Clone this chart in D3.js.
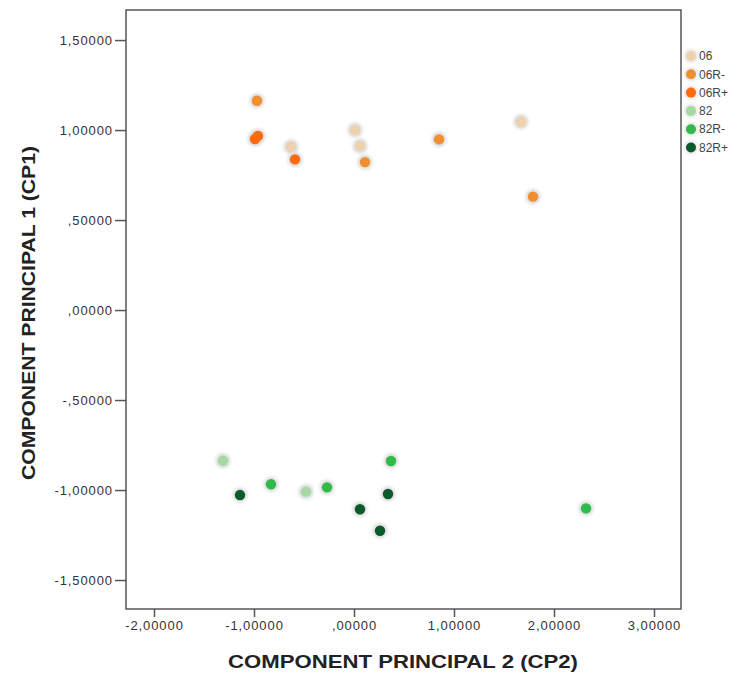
<!DOCTYPE html>
<html>
<head>
<meta charset="utf-8">
<script src="https://cdn.jsdelivr.net/npm/d3@7"></script>
<style>
  body { margin: 0; background: #fff; }
  text { font-family: "Liberation Sans", Arial, sans-serif; }
</style>
</head>
<body>
<script>
// groups in the legend
const groups = ['06', '06R-', '06R+', '82', '82R-', '82R+'];
const groupColors = ['#efd2ad', '#ef8f2f', '#ff6a0f', '#a6d8a4', '#2fba4b', '#0b5a2c'];

// CP2 (x) and CP1 (y) per point, with their group
const pointGroup = ['06', '06', '06', '06',
  '06R-', '06R-', '06R-', '06R-',
  '06R+', '06R+', '06R+',
  '82', '82',
  '82R-', '82R-', '82R-', '82R-',
  '82R+', '82R+', '82R+', '82R+'];
const cp2 = [-0.63, 0.01, 0.06, 1.67,
  -0.97, 0.11, 0.85, 1.79,
  -0.99, -0.96, -0.59,
  -1.31, -0.48,
  -0.83, -0.27, 0.37, 2.32,
  -1.14, 0.06, 0.34, 0.26];
const cp1 = [0.907, 1.0, 0.911, 1.046,
  1.163, 0.822, 0.948, 0.63,
  0.95, 0.967, 0.837,
  -0.837, -1.009,
  -0.968, -0.985, -0.839, -1.102,
  -1.028, -1.107, -1.022, -1.226];

const xTicks = [-2, -1, 0, 1, 2, 3];
const yTicks = [-1.5, -1, -0.5, 0, 0.5, 1, 1.5];

const width = 739, height = 673;
const plotLeft = 126, plotRight = 681, plotTop = 10, plotBottom = 609;

// SPSS style labels: comma decimal, no leading zero, plain hyphen
const spss = v => d3.format('.5f')(v).replace('\u2212', '-').replace('.', ',').replace(/^(-?)0,/, '$1,');

const svg = d3.select('body').append('svg')
  .attr('width', width)
  .attr('height', height);

const defs = svg.append('defs');
defs.append('filter').attr('id', 'halo')
  .attr('x', '-50%').attr('y', '-50%').attr('width', '200%').attr('height', '200%')
  .append('feGaussianBlur').attr('stdDeviation', 1.6);

const x = d3.scaleLinear().domain([-2.28, 3.27]).range([plotLeft, plotRight]);
const y = d3.scaleLinear().domain([-1.661, 1.667]).range([plotBottom, plotTop]);
const color = d3.scaleOrdinal().domain(groups).range(groupColors);

// frame
svg.append('rect')
  .attr('x', plotLeft).attr('y', plotTop)
  .attr('width', plotRight - plotLeft).attr('height', plotBottom - plotTop)
  .attr('fill', 'none').attr('stroke', '#555').attr('stroke-width', 1.5);

const xAxis = svg.append('g')
  .attr('transform', `translate(0,${plotBottom})`)
  .call(d3.axisBottom(x).tickValues(xTicks).tickFormat(spss).tickSize(8).tickPadding(4).tickSizeOuter(0));
const yAxis = svg.append('g')
  .attr('transform', `translate(${plotLeft},0)`)
  .call(d3.axisLeft(y).tickValues(yTicks).tickFormat(spss).tickSize(11).tickPadding(2).tickSizeOuter(0));

[xAxis, yAxis].forEach(a => {
  a.select('.domain').remove();
  a.selectAll('line').attr('stroke', '#555').attr('stroke-width', 1.5);
  a.selectAll('text').attr('fill', '#333').style('font-size', '13px').style('letter-spacing', '0.9px');
});

// axis titles
svg.append('text')
  .attr('x', 403).attr('y', 668)
  .attr('text-anchor', 'middle')
  .attr('textLength', 350).attr('lengthAdjust', 'spacingAndGlyphs')
  .style('font-size', '18px').style('font-weight', 'bold').attr('fill', '#222')
  .text('COMPONENT PRINCIPAL 2 (CP2)');
svg.append('text')
  .attr('transform', 'translate(35,313) rotate(-90)')
  .attr('text-anchor', 'middle')
  .attr('textLength', 334).attr('lengthAdjust', 'spacingAndGlyphs')
  .style('font-size', '18px').style('font-weight', 'bold').attr('fill', '#222')
  .text('COMPONENT PRINCIPAL 1 (CP1)');

// points
const pts = cp2.map((v, i) => ({ x: v, y: cp1[i], g: pointGroup[i] }));
svg.append('g').selectAll('circle')
  .data(pts).enter()
  .append('circle')
  .attr('cx', d => x(d.x)).attr('cy', d => y(d.y))
  .attr('r', 7.5).attr('fill', '#dcdcdc').attr('filter', 'url(#halo)');
svg.append('g').selectAll('circle')
  .data(pts).enter()
  .append('circle')
  .attr('cx', d => x(d.x)).attr('cy', d => y(d.y))
  .attr('r', 5.2).attr('fill', d => color(d.g));

// legend
const legend = svg.append('g').selectAll('g')
  .data(groups).enter()
  .append('g')
  .attr('transform', (d, i) => `translate(691,${56 + i * 18.3})`);
legend.append('circle').attr('r', 7).attr('fill', '#e6e6e6').attr('filter', 'url(#halo)');
legend.append('circle').attr('r', 5).attr('fill', d => color(d));
legend.append('text')
  .attr('x', 8).attr('dy', '0.35em')
  .style('font-size', '12px').attr('fill', '#444')
  .text(d => d);
</script>
</body>
</html>
